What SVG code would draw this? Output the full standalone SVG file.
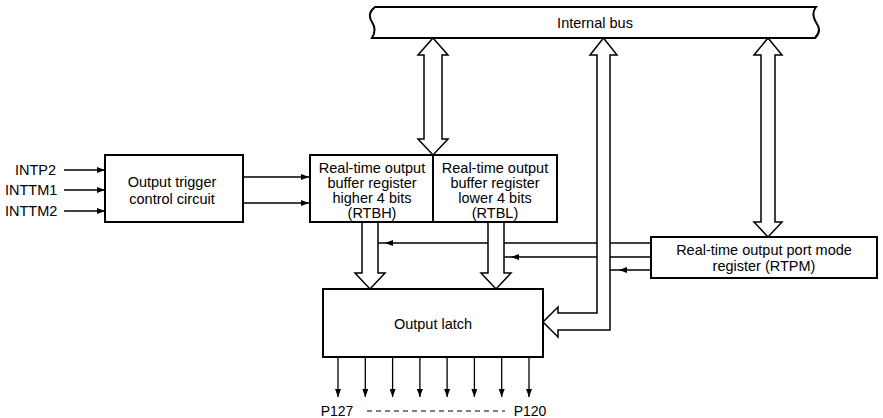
<svg xmlns="http://www.w3.org/2000/svg" width="883" height="418" viewBox="0 0 883 418">
<style>
text{font-family:"Liberation Sans",Arial,sans-serif;font-size:14.5px;fill:#000;text-anchor:middle;dominant-baseline:central}
.st{text-anchor:start}
.box{fill:#fff;stroke:#000;stroke-width:2}
.blk{fill:#fff;stroke:#000;stroke-width:1.5;stroke-linejoin:miter}
.ln{fill:none;stroke:#000;stroke-width:1.3}
.ah{fill:#000}
.dash{fill:none;stroke:#000;stroke-width:1.2;stroke-dasharray:5 4}
</style>
<defs>
<marker id="arr" markerUnits="userSpaceOnUse" markerWidth="8" markerHeight="6" refX="8" refY="3" orient="auto">
<path d="M0,0 L8,3 L0,6 z" fill="#000"/>
</marker>
</defs>

<g id="bus">
<path class="box" d="M375,7 L816,7 C812,12 813,18 817,24 C821,30 818,35 815,38 L372,38 C375,33 376,28 372,22 C368,16 370,11 375,7 z" style="stroke-width:2"/>
<text x="595" y="23">Internal bus</text>
</g>

<g id="inputs">
<text class="st" x="15" y="170">INTP2</text>
<text class="st" x="5" y="190">INTTM1</text>
<text class="st" x="5" y="211">INTTM2</text>
</g>

<g id="trigger">
<rect class="box" x="105" y="155" width="138" height="67"/>
<text x="172" y="182">Output trigger</text>
<text x="172" y="199">control circuit</text>
</g>

<g id="rtbh">
<rect class="box" x="310" y="155" width="123" height="67"/>
<text x="372" y="168">Real-time output</text>
<text x="372" y="183">buffer register</text>
<text x="372" y="198">higher 4 bits</text>
<text x="372" y="213">(RTBH)</text>
</g>

<g id="rtbl">
<rect class="box" x="433" y="155" width="124" height="67"/>
<text x="495" y="168">Real-time output</text>
<text x="495" y="183">buffer register</text>
<text x="495" y="198">lower 4 bits</text>
<text x="495" y="213">(RTBL)</text>
</g>

<g id="rtpm">
<rect class="box" x="651" y="237" width="226" height="41"/>
<text x="764" y="250">Real-time output port mode</text>
<text x="764" y="266">register (RTPM)</text>
</g>

<g id="latch">
<rect class="box" x="323" y="289" width="220" height="68"/>
<text x="433" y="324">Output latch</text>
</g>

<g id="connectors">
<line class="ln" x1="64" y1="170" x2="105" y2="170" marker-end="url(#arr)"/>
<line class="ln" x1="64" y1="190" x2="105" y2="190" marker-end="url(#arr)"/>
<line class="ln" x1="64" y1="211" x2="105" y2="211" marker-end="url(#arr)"/>
<line class="ln" x1="243" y1="177" x2="309" y2="177" marker-end="url(#arr)"/>
<line class="ln" x1="243" y1="203" x2="309" y2="203" marker-end="url(#arr)"/>

<line class="ln" x1="651" y1="243" x2="378" y2="243"/>
<polygon class="ah" points="385,243 393,240 393,246"/>
<line class="ln" x1="651" y1="257" x2="504" y2="257"/>
<polygon class="ah" points="511,257 519,254 519,260"/>
<line class="ln" x1="651" y1="270" x2="610" y2="270"/>
<polygon class="ah" points="619,270 627,267 627,273"/>

<polygon class="blk" points="433,38 448,55 442,55 442,139 448,139 433,155 418,139 424,139 424,55 418,55"/>
<polygon class="blk" points="768,38 782,55 775,55 775,222 782,222 768,237 754,222 761,222 761,55 754,55"/>
<polygon class="blk" points="603.5,38 617,55 610,55 610,330 558,330 558,337 543,322 558,307 558,313 597,313 597,55 590,55"/>
<path class="blk" d="M362,223 V273 H355 L370,289 L385,273 H378 V223"/>
<path class="blk" d="M488,223 V273 H481 L496,289 L511,273 H504 V223"/>

<line class="ln" x1="338" y1="357" x2="338" y2="397" marker-end="url(#arr)"/>
<line class="ln" x1="365.3" y1="357" x2="365.3" y2="397" marker-end="url(#arr)"/>
<line class="ln" x1="392.6" y1="357" x2="392.6" y2="397" marker-end="url(#arr)"/>
<line class="ln" x1="419.9" y1="357" x2="419.9" y2="397" marker-end="url(#arr)"/>
<line class="ln" x1="447.1" y1="357" x2="447.1" y2="397" marker-end="url(#arr)"/>
<line class="ln" x1="474.4" y1="357" x2="474.4" y2="397" marker-end="url(#arr)"/>
<line class="ln" x1="501.7" y1="357" x2="501.7" y2="397" marker-end="url(#arr)"/>
<line class="ln" x1="529" y1="357" x2="529" y2="397" marker-end="url(#arr)"/>
</g>

<g id="pins">
<text x="337" y="411" style="font-size:14px">P127</text>
<line class="dash" x1="367" y1="411" x2="505" y2="411"/>
<text x="530" y="411" style="font-size:14px">P120</text>
</g>
</svg>
